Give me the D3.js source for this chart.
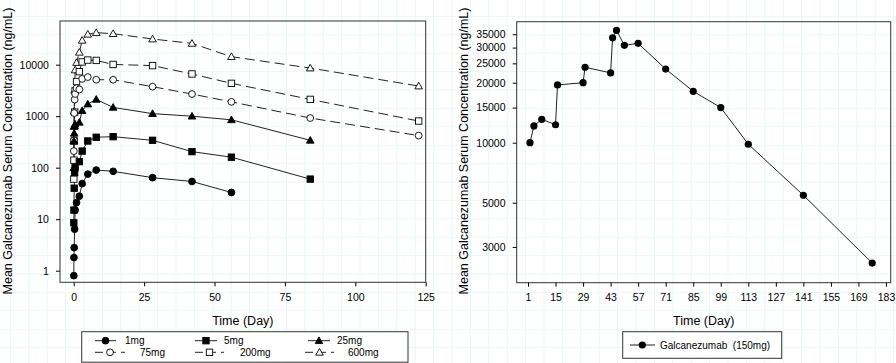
<!DOCTYPE html>
<html><head><meta charset="utf-8">
<script src="https://cdn.jsdelivr.net/npm/d3@7"></script>
<style>
body{margin:0;background:#fff;}
text{font-family:"Liberation Sans",Arial,sans-serif;fill:#000;}
</style></head>
<body>
<svg id="chart" width="896" height="363"></svg>
<script>
// ---------- DATA: left panel (single dose groups) ----------
const doseNames = ["1mg","5mg","25mg","75mg","200mg","600mg"];
const dose1mg_t   = [0.04,0.08,0.17,0.33,0.5,1,2,3,5,8,14,28,42,56];
const dose1mg_c   = [0.8,1.8,2.8,6.4,15,21,28,49,75,90,85,64,54,33];
const dose5mg_t   = [0.04,0.08,0.17,0.33,0.5,2,3,5,8,14,28,42,56,84];
const dose5mg_c   = [8.5,15,40,80,100,131,210,330,390,400,340,205,160,60];
const dose25mg_t  = [0.04,0.08,0.17,0.33,0.5,2,3,5,8,14,28,42,56,84];
const dose25mg_c  = [100,330,465,640,700,760,1280,1720,2120,1480,1120,1000,850,340];
const dose75mg_t  = [0.04,0.08,0.17,0.33,0.5,1,2,3,5,8,14,28,42,56,84,122.5];
const dose75mg_c  = [210,340,1150,2100,2700,3500,3300,5300,5750,5100,5100,3740,2690,1900,920,420];
const dose200mg_t = [0.04,0.08,0.17,0.33,0.5,1,2,3,5,8,14,28,42,56,84,122.5];
const dose200mg_c = [60,140,330,1200,3100,4700,7300,11300,12300,12100,10100,9600,6600,4340,2120,805];
const dose600mg_t = [0.04,0.08,0.17,0.33,0.5,1,2,3,5,8,14,28,42,56,84,122.5];
const dose600mg_c = [330,630,1250,3200,7900,11000,17400,29700,39000,41800,40000,31500,25900,14300,8600,3850];
const leftXTicks = [0,25,50,75,100,125];
const leftYTicks = [1,10,100,1000,10000];

// ---------- DATA: right panel (150 mg multiple dose) ----------
const galDays = [2,4,8,15,16,29,30,43,44,46,50,57,71,85,99,113,141,176];
const galConc = [10000,12130,13100,12300,19480,20000,23900,22400,33600,36600,30800,31500,23400,18100,15000,9820,5450,2490];
const rightXTicks = [1,15,29,43,57,71,85,99,113,127,141,155,169,183];
const rightYTicks = [3000,5000,10000,15000,20000,25000,30000,35000];

const svg = d3.select("#chart");

// faint background grid
const bg = svg.append("g");
d3.range(-8, 896, 18.4).forEach(x => bg.append("line").attr("x1",x).attr("x2",x).attr("y1",0).attr("y2",363)
  .attr("stroke","#eaf7f7").attr("stroke-width",1));
d3.range(-2, 363, 18.4).forEach(y => bg.append("line").attr("y1",y).attr("y2",y).attr("x1",0).attr("x2",896)
  .attr("stroke","#eaf7f7").attr("stroke-width",1));

// marker drawer
function marker(g, type, x, y, filled){
  const fill = filled ? "#000" : "#fff";
  if(type==="circle"){
    g.append("circle").attr("cx",x).attr("cy",y).attr("r",3.4).attr("fill",fill).attr("stroke","#000").attr("stroke-width",0.9);
  } else if(type==="square"){
    g.append("rect").attr("x",x-3.2).attr("y",y-3.2).attr("width",6.4).attr("height",6.4).attr("fill",fill).attr("stroke","#000").attr("stroke-width",0.9);
  } else {
    const s=3.8;
    g.append("path").attr("d",`M${x},${y-s}L${x+s},${y+s*0.75}L${x-s},${y+s*0.75}Z`).attr("fill",fill).attr("stroke","#000").attr("stroke-width",0.9);
  }
}

// ---------- LEFT PANEL ----------
const L = {x0:60, x1:425.7, y0:21, y1:282.3};
const xL = d3.scaleLinear().domain([-4.87,125]).range([L.x0,L.x1]);
const yL = d3.scaleLog().domain([0.595,70500]).range([L.y1,L.y0]);

const gL = svg.append("g");
gL.append("rect").attr("x",L.x0).attr("y",L.y0).attr("width",L.x1-L.x0).attr("height",L.y1-L.y0)
  .attr("fill","none").attr("stroke","#333").attr("stroke-width",1);

const axL = gL.append("g").attr("transform",`translate(0,${L.y1})`)
  .call(d3.axisBottom(xL).tickValues(leftXTicks).tickSize(4).tickSizeOuter(0));
const ayL = gL.append("g").attr("transform",`translate(${L.x0},0)`)
  .call(d3.axisLeft(yL).tickValues(leftYTicks).tickFormat(d3.format("d")).tickSize(4).tickSizeOuter(0));
[axL,ayL].forEach(a=>{a.select(".domain").remove(); a.selectAll("text").attr("font-size",10.5).attr("font-family","Liberation Sans, Arial, sans-serif");});
axL.selectAll("text").attr("dy","1.1em");
ayL.selectAll("text").attr("dx","-0.4em");

const series = [
  {t:dose1mg_t, c:dose1mg_c, type:"circle", filled:true, dash:null},
  {t:dose5mg_t, c:dose5mg_c, type:"square", filled:true, dash:null},
  {t:dose25mg_t, c:dose25mg_c, type:"triangle", filled:true, dash:null},
  {t:dose75mg_t, c:dose75mg_c, type:"circle", filled:false, dash:"10,5"},
  {t:dose200mg_t, c:dose200mg_c, type:"square", filled:false, dash:"10,5"},
  {t:dose600mg_t, c:dose600mg_c, type:"triangle", filled:false, dash:"10,5"}
];
const lineL = d3.line().x(d=>xL(d[0])).y(d=>yL(d[1]));
series.forEach(s=>{
  const pts = s.t.map((t,i)=>[t,s.c[i]]);
  gL.append("path").attr("d",lineL(pts)).attr("fill","none").attr("stroke","#222").attr("stroke-width",1)
    .attr("stroke-dasharray",s.dash);
});
series.slice().reverse().forEach(s=>{
  const g = gL.append("g");
  s.t.forEach((t,i)=>marker(g,s.type,xL(t),yL(s.c[i]),s.filled));
});

gL.append("text").attr("x",(L.x0+L.x1)/2).attr("y",325).attr("text-anchor","middle").attr("font-size",12.5).text("Time (Day)");
gL.append("text").attr("transform",`translate(12,151) rotate(-90)`).attr("text-anchor","middle").attr("font-size",12.5)
  .text("Mean Galcanezumab Serum Concentration (ng/mL)");

// left legend
const lg = svg.append("g");
lg.append("rect").attr("x",81.7).attr("y",331.7).attr("width",326.3).attr("height",30.5).attr("fill","#fff").attr("stroke","#333");
const legPos = [
  {lx0:95, lx1:116, tx:125, y:340.7},
  {lx0:195, lx1:217, tx:224, y:340.7},
  {lx0:308, lx1:330, tx:337, y:340.7},
  {lx0:95, lx1:125, tx:140, y:352.3},
  {lx0:195, lx1:224, tx:240, y:352.3},
  {lx0:305, lx1:334, tx:348, y:352.3}
];
series.forEach((s,i)=>{
  const p = legPos[i];
  lg.append("line").attr("x1",p.lx0).attr("x2",p.lx1).attr("y1",p.y).attr("y2",p.y).attr("stroke","#222")
    .attr("stroke-width",1).attr("stroke-dasharray", s.dash ? "8,5" : null);
  marker(lg, s.type, (p.lx0+p.lx1)/2, p.y, s.filled);
  lg.append("text").attr("x",p.tx).attr("y",p.y+3.5).attr("font-size",10).text(doseNames[i]);
});

// ---------- RIGHT PANEL ----------
const R = {x0:516.7, x1:890.7, y0:21.7, y1:282.7};
const xR = d3.scaleLinear().domain([-4.75,185.4]).range([R.x0,R.x1]);
const yR = d3.scaleLog().domain([1984,40460]).range([R.y1,R.y0]);

const gR = svg.append("g");
gR.append("rect").attr("x",R.x0).attr("y",R.y0).attr("width",R.x1-R.x0).attr("height",R.y1-R.y0)
  .attr("fill","none").attr("stroke","#333").attr("stroke-width",1);
const axR = gR.append("g").attr("transform",`translate(0,${R.y1})`)
  .call(d3.axisBottom(xR).tickValues(rightXTicks).tickSize(4).tickSizeOuter(0));
const ayR = gR.append("g").attr("transform",`translate(${R.x0},0)`)
  .call(d3.axisLeft(yR).tickValues(rightYTicks).tickFormat(d3.format("d")).tickSize(4).tickSizeOuter(0));
[axR,ayR].forEach(a=>{a.select(".domain").remove(); a.selectAll("text").attr("font-size",10.5).attr("font-family","Liberation Sans, Arial, sans-serif");});
axR.selectAll("text").attr("dy","1.1em");
ayR.selectAll("text").attr("dx","-0.4em");

const galPts = galDays.map((d,i)=>[d,galConc[i]]);
gR.append("path").attr("d",d3.line().x(d=>xR(d[0])).y(d=>yR(d[1]))(galPts))
  .attr("fill","none").attr("stroke","#222").attr("stroke-width",1);
galPts.forEach(p=>gR.append("circle").attr("cx",xR(p[0])).attr("cy",yR(p[1])).attr("r",3.6).attr("fill","#000"));

gR.append("text").attr("x",(R.x0+R.x1)/2).attr("y",325).attr("text-anchor","middle").attr("font-size",12.5).text("Time (Day)");
gR.append("text").attr("transform",`translate(468,151) rotate(-90)`).attr("text-anchor","middle").attr("font-size",12.5)
  .text("Mean Galcanezumab Serum Concentration (ng/mL)");

const rg = svg.append("g");
rg.append("rect").attr("x",622.7).attr("y",331.7).attr("width",159).attr("height",26.6).attr("fill","#fff").attr("stroke","#333");
rg.append("line").attr("x1",630).attr("x2",655).attr("y1",345).attr("y2",345).attr("stroke","#222");
rg.append("circle").attr("cx",642.3).attr("cy",345).attr("r",3.6).attr("fill","#000");
rg.append("text").attr("x",660).attr("y",348.5).attr("font-size",10).attr("xml:space","preserve").text("Galcanezumab  (150mg)");
</script>
</body></html>
